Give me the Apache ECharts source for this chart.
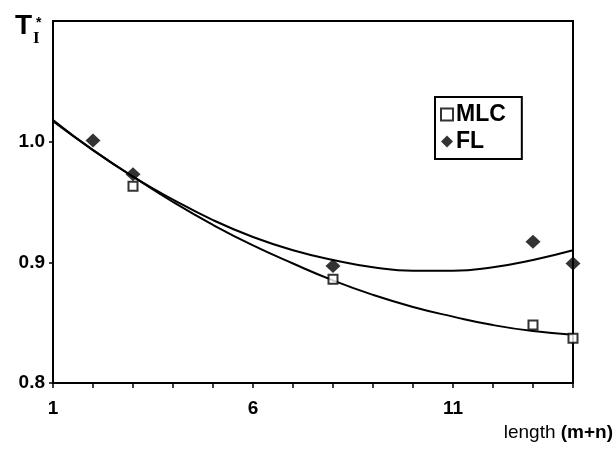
<!DOCTYPE html>
<html>
<head>
<meta charset="utf-8">
<script src="https://cdn.jsdelivr.net/npm/echarts@6/dist/echarts.min.js"></script>
<style>
  html, body { margin: 0; padding: 0; background: #fff; }
  #main { width: 616px; height: 449px; }
</style>
</head>
<body>
<div id="main"></div>
<script>
// measured points
var mlcX = [3, 8, 13, 14];
var mlcY = [0.963, 0.886, 0.848, 0.837];
var flX = [2, 3, 8, 13, 14];
var flY = [1.001, 0.973, 0.897, 0.917, 0.899];

// fitted curves at each integer length
var fitX = [1, 2, 3, 4, 5, 6, 7, 8, 9, 10, 11, 12, 13, 14];
var mlcFit = [1.017, 0.993, 0.971, 0.950, 0.931, 0.914, 0.899, 0.885, 0.873, 0.863, 0.855, 0.848, 0.843, 0.840];
var flFit = [1.018, 0.993, 0.971, 0.952, 0.935, 0.921, 0.910, 0.902, 0.896, 0.893, 0.893, 0.896, 0.902, 0.910];

var xLabels = [1, 6, 11];

function pairs(xs, ys) {
  return xs.map(function (x, i) { return [x, ys[i]]; });
}

var chart = echarts.init(document.getElementById('main'));

var font = 'Liberation Sans, Arial, sans-serif';

var option = {
  animation: false,
  backgroundColor: '#fff',
  grid: {
    left: 53, right: 42, top: 21, bottom: 66,
    show: true, borderColor: '#000', borderWidth: 2, backgroundColor: 'transparent'
  },
  legend: {
    orient: 'vertical',
    left: 435, top: 97,
    padding: [6, 16, 6, 5],
    itemGap: 4,
    itemWidth: 12, itemHeight: 12,
    borderColor: '#000', borderWidth: 2,
    textStyle: { fontFamily: font, fontWeight: 'bold', fontSize: 23, color: '#000', padding: [0, 0, 0, -2] },
    data: ['MLC', 'FL']
  },
  graphic: [
    { type: 'text', left: 15, top: 12, style: { text: 'T', font: 'bold 28px ' + font, fill: '#000' } },
    { type: 'text', left: 36, top: 16, style: { text: '*', font: 'bold 14px ' + font, fill: '#000' } },
    { type: 'text', left: 33, top: 30, style: { text: 'I', font: 'bold 17px Liberation Serif, serif', fill: '#000' } }
  ],
  xAxis: {
    type: 'value',
    min: 1, max: 14, interval: 1,
    name: '{a|length }{b|(m+n)}',
    nameLocation: 'end',
    nameGap: 40,
    nameTextStyle: {
      align: 'right', verticalAlign: 'top', padding: [40, 0, 0, 0],
      rich: {
        a: { fontFamily: font, fontSize: 19, color: '#000' },
        b: { fontFamily: font, fontSize: 19, fontWeight: 'bold', color: '#000' }
      }
    },
    splitLine: { show: false },
    axisLine: { lineStyle: { color: '#000', width: 2 } },
    axisTick: { length: 5, lineStyle: { color: '#000', width: 1.5 } },
    axisLabel: {
      margin: 16,
      fontFamily: font, fontWeight: 'bold', fontSize: 19, color: '#000',
      formatter: function (v) { return xLabels.indexOf(v) >= 0 ? String(v) : ''; }
    }
  },
  yAxis: {
    type: 'value',
    min: 0.8, max: 1.1, interval: 0.1,
    splitLine: { show: false },
    axisLine: { lineStyle: { color: '#000', width: 2 } },
    axisTick: { length: 4, lineStyle: { color: '#000', width: 1.5 } },
    axisLabel: {
      margin: 8, showMaxLabel: false,
      fontFamily: font, fontWeight: 'bold', fontSize: 19, color: '#000',
      formatter: function (v) { return v.toFixed(1); }
    }
  },
  series: [
    {
      type: 'line', data: pairs(fitX, mlcFit), smooth: true, showSymbol: false,
      lineStyle: { color: '#000', width: 2 }, silent: true, z: 2
    },
    {
      type: 'line', data: pairs(fitX, flFit), smooth: true, showSymbol: false,
      lineStyle: { color: '#000', width: 2 }, silent: true, z: 2
    },
    {
      name: 'MLC', type: 'scatter', data: pairs(mlcX, mlcY),
      symbol: 'rect', symbolSize: 9,
      itemStyle: { color: '#fff', borderColor: '#000', borderWidth: 2 }, z: 5
    },
    {
      name: 'FL', type: 'scatter', data: pairs(flX, flY),
      symbol: 'diamond', symbolSize: [15, 14],
      itemStyle: { color: '#000' }, z: 5
    }
  ]
};

chart.setOption(option);
</script>
</body>
</html>
